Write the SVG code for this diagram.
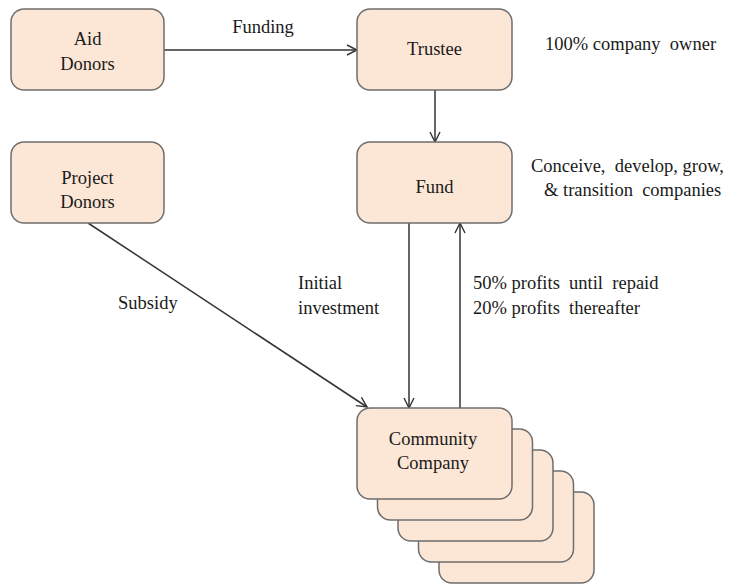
<svg xmlns="http://www.w3.org/2000/svg" width="735" height="584" viewBox="0 0 735 584">
<defs>
<style>
.box{fill:#fce6d6;stroke:#6e6e6e;stroke-width:1.5}
.t{font-family:'Liberation Serif','Times New Roman','DejaVu Serif',serif;font-size:18.5px;fill:#1a1a1a}
.c{text-anchor:middle}
.ln{stroke:#333;stroke-width:1.5;fill:none}
</style>
<marker id="arr" viewBox="0 0 12 12" refX="11" refY="6" markerWidth="12" markerHeight="12" markerUnits="userSpaceOnUse" orient="auto">
<path d="M1,1 L11,6 L1,11" fill="none" stroke="#333" stroke-width="1.4"/>
</marker>
</defs>
<rect width="735" height="584" fill="#fff"/>
<g id="connectors">
<line class="ln" x1="164" y1="50" x2="357" y2="50" marker-end="url(#arr)"/>
<line class="ln" x1="435" y1="90" x2="435" y2="142" marker-end="url(#arr)"/>
<line class="ln" x1="409" y1="223" x2="409" y2="408" marker-end="url(#arr)"/>
<line class="ln" x1="460" y1="408" x2="460" y2="223" marker-end="url(#arr)"/>
<line class="ln" x1="88" y1="223" x2="367" y2="407" marker-end="url(#arr)"/>
<text class="t c" x="263" y="33" font-family="Liberation Serif, serif">Funding</text>
<text class="t" x="118" y="309">Subsidy</text>
<text class="t" x="298" y="289">Initial</text>
<text class="t" x="298" y="314">investment</text>
<text class="t" x="473" y="289" style="white-space:pre">50% profits  until  repaid</text>
<text class="t" x="473" y="314" style="white-space:pre">20% profits  thereafter</text>
</g>
<g id="aid-donors">
<rect class="box" x="11" y="9" width="153" height="81" rx="13"/>
<text class="t c" x="87.5" y="45">Aid</text>
<text class="t c" x="87.5" y="70">Donors</text>
</g>
<g id="trustee">
<rect class="box" x="357" y="9" width="155" height="81" rx="13"/>
<text class="t c" x="434.5" y="55">Trustee</text>
</g>
<g id="fund">
<rect class="box" x="357" y="142" width="155" height="81" rx="13"/>
<text class="t c" x="434.5" y="193">Fund</text>
</g>
<g id="project-donors">
<rect class="box" x="11" y="142" width="153" height="81" rx="13"/>
<text class="t c" x="87.5" y="184">Project</text>
<text class="t c" x="87.5" y="208">Donors</text>
</g>
<g id="notes">
<text class="t" x="545" y="50" style="white-space:pre">100% company  owner</text>
<text class="t" x="531" y="172" style="white-space:pre">Conceive,  develop, grow,</text>
<text class="t" x="544" y="196" style="white-space:pre">&amp; transition  companies</text>
</g>
<g id="community-company">
<rect class="box" x="439" y="492" width="155" height="91" rx="13"/>
<rect class="box" x="418.5" y="471" width="155" height="91" rx="13"/>
<rect class="box" x="398" y="450" width="155" height="91" rx="13"/>
<rect class="box" x="377.5" y="429" width="155" height="91" rx="13"/>
<rect class="box" x="357" y="408" width="155" height="91" rx="13"/>
<text class="t c" x="433" y="445">Community</text>
<text class="t c" x="433" y="469">Company</text>
</g>
</svg>
